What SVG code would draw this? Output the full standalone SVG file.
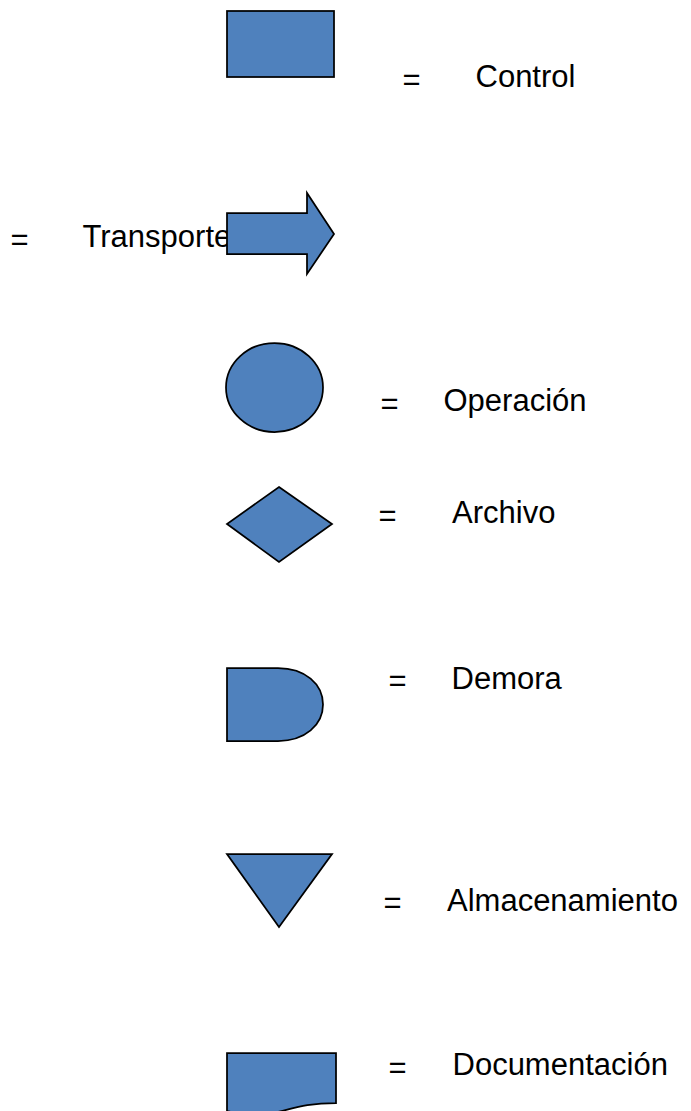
<svg xmlns="http://www.w3.org/2000/svg" width="691" height="1111" viewBox="0 0 691 1111">
  <style>
    .shape { fill: #4F81BD; stroke: #000; stroke-width: 1.75; stroke-linejoin: miter; }
    .lbl { font-family: "Liberation Sans", Arial, sans-serif; font-size: 31px; fill: #000; }
  </style>
  <rect width="691" height="1111" fill="#fff"/>

  <!-- Control -->
  <g id="control">
    <rect class="shape" x="227" y="11" width="107" height="66"/>
    <text class="lbl" x="402.5" y="90">=</text>
    <text class="lbl" x="475.5" y="87">Control</text>
  </g>

  <!-- Transporte: label sits left of the block arrow, which overlaps its last letter -->
  <g id="transporte">
    <text class="lbl" x="10.5" y="250">=</text>
    <text class="lbl" x="82.5" y="247">Transporte</text>
    <path class="shape" d="M227,213 H307 V193 L334,234 L307,274 V254 H227 Z"/>
  </g>

  <!-- Operación -->
  <g id="operacion">
    <ellipse class="shape" cx="274.5" cy="387.5" rx="48.5" ry="44.5"/>
    <text class="lbl" x="380.5" y="414">=</text>
    <text class="lbl" x="443.5" y="411">Operación</text>
  </g>

  <!-- Archivo -->
  <g id="archivo">
    <path class="shape" d="M279,487 L332,524 L279,562 L227,524 Z"/>
    <text class="lbl" x="378.5" y="526">=</text>
    <text class="lbl" x="452" y="523">Archivo</text>
  </g>

  <!-- Demora -->
  <g id="demora">
    <path class="shape" d="M227,668 H278 C305,668 323,684 323,704.5 C323,725 305,741 278,741 H227 Z"/>
    <text class="lbl" x="388.5" y="691">=</text>
    <text class="lbl" x="451.5" y="689">Demora</text>
  </g>

  <!-- Almacenamiento -->
  <g id="almacenamiento">
    <path class="shape" d="M227,854 H332 L279,927 Z"/>
    <text class="lbl" x="383.5" y="913">=</text>
    <text class="lbl" x="447" y="911">Almacenamiento</text>
  </g>

  <!-- Documentación -->
  <g id="documentacion">
    <path class="shape" d="M227,1053 H336 V1103 C281.5,1103 281.5,1122 227,1111.2 Z"/>
    <text class="lbl" x="388.5" y="1078">=</text>
    <text class="lbl" x="452.5" y="1075">Documentación</text>
  </g>

  <g id="connectors"/>
</svg>
